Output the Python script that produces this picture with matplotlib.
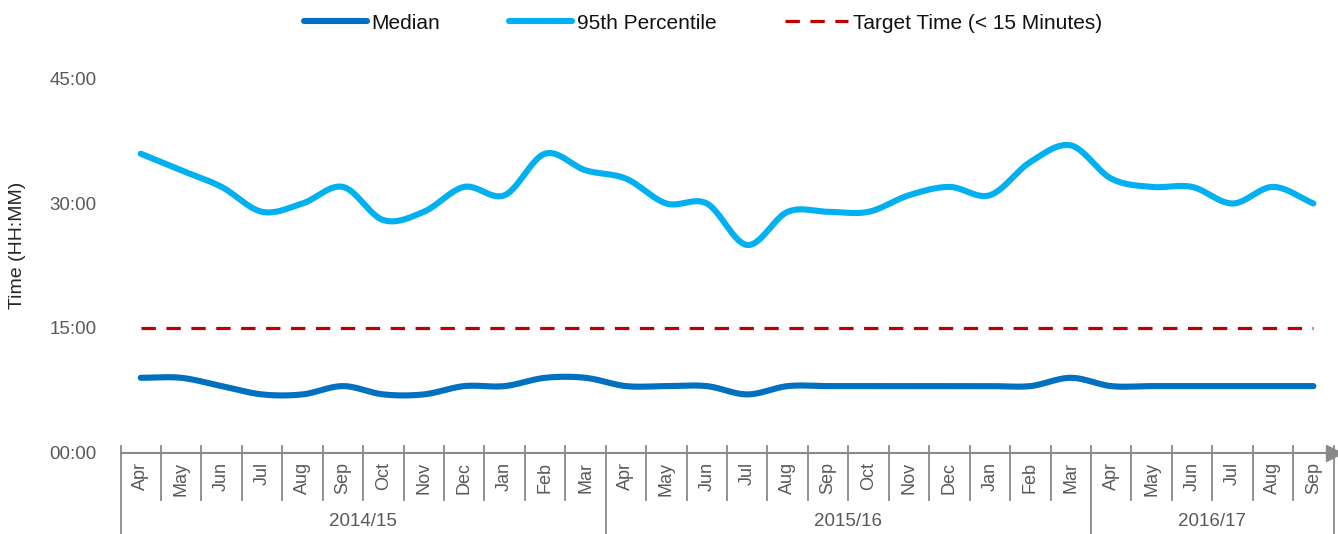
import numpy as np
import matplotlib
matplotlib.use("Agg")
import matplotlib.pyplot as plt
from matplotlib.lines import Line2D
from matplotlib.transforms import blended_transform_factory

plt.rcParams['font.family'] = ['Liberation Sans', 'DejaVu Sans']

# ---------------- data ----------------
months = ["Apr", "May", "Jun", "Jul", "Aug", "Sep", "Oct", "Nov", "Dec", "Jan", "Feb", "Mar",
          "Apr", "May", "Jun", "Jul", "Aug", "Sep", "Oct", "Nov", "Dec", "Jan", "Feb", "Mar",
          "Apr", "May", "Jun", "Jul", "Aug", "Sep"]
years = ["2014/15", "2015/16", "2016/17"]
year_sizes = [12, 12, 6]
# minutes
median = [9, 9, 8, 7, 7, 8, 7, 7, 8, 8, 9, 9,
          8, 8, 8, 7, 8, 8, 8, 8, 8, 8, 8, 9,
          8, 8, 8, 8, 8, 8]
p95 = [36, 34, 32, 29, 30, 32, 28, 29, 32, 31, 36, 34,
       33, 30, 30, 25, 29, 29, 29, 31, 32, 31, 35, 37,
       33, 32, 32, 30, 32, 30]
target = 15
yticks = [0, 15, 30, 45]


def smooth(x, y, n=24):
    """Catmull-Rom spline through the points (rendering only)."""
    x = np.asarray(x, float)
    y = np.asarray(y, float)
    px = np.concatenate([[2 * x[0] - x[1]], x, [2 * x[-1] - x[-2]]])
    py = np.concatenate([[2 * y[0] - y[1]], y, [2 * y[-1] - y[-2]]])
    xs, ys = [], []
    for i in range(1, len(px) - 2):
        t = np.linspace(0, 1, n, endpoint=False)
        for p, out in ((px, xs), (py, ys)):
            p0, p1, p2, p3 = p[i - 1], p[i], p[i + 1], p[i + 2]
            out.append(0.5 * ((2 * p1) + (-p0 + p2) * t +
                              (2 * p0 - 5 * p1 + 4 * p2 - p3) * t ** 2 +
                              (-p0 + 3 * p1 - 3 * p2 + p3) * t ** 3))
    xs.append([x[-1]])
    ys.append([y[-1]])
    return np.concatenate(xs), np.concatenate(ys)


W, H = 1338, 534
fig = plt.figure(figsize=(W / 100, H / 100), dpi=100)
left, right = 120.5, 1333.6
ybot, ytop = 452.5, 79
ax = fig.add_axes([left / W, 1 - ybot / H, (right - left) / W, (ybot - ytop) / H])

n = len(months)
xc = np.arange(n) + 0.5

c_med = "#0070C0"
c_p95 = "#00B0F0"
c_tgt = "#C00000"

sx, sy = smooth(xc, median)
ax.plot(sx, sy, color=c_med, lw=4.4, solid_capstyle='round', label="Median", zorder=3)
sx, sy = smooth(xc, p95)
ax.plot(sx, sy, color=c_p95, lw=4.4, solid_capstyle='round', label="95th Percentile", zorder=3)
ax.plot([xc[0], xc[-1]], [target, target], color=c_tgt, lw=2.3, dashes=(4.5, 3.3),
        dash_capstyle='butt', label="Target Time (< 15 Minutes)", zorder=2)

ax.set_xlim(0, n)
ax.set_ylim(0, 45)
for s in ("left", "right", "top"):
    ax.spines[s].set_visible(False)
gray = "#898989"
ax.spines["bottom"].set_color(gray)
ax.spines["bottom"].set_linewidth(1.5)
ax.set_xticks([])
ax.set_yticks(yticks)
ax.set_yticklabels([f"{v:02d}:00" for v in yticks])
ax.tick_params(axis='y', length=0, pad=17, labelsize=13.5, labelcolor="#595959")

# arrow at the end of x axis
ax.plot([1.0], [0], marker=">", markersize=11, color=gray, transform=ax.transAxes,
        clip_on=False, zorder=4)

# separators and category labels
tr = blended_transform_factory(ax.transData, fig.transFigure)
fy = lambda p: 1 - p / H
year_bounds = np.concatenate([[0], np.cumsum(year_sizes)])
for b in range(n + 1):
    if b in year_bounds:
        y0, y1 = 446, 534
    else:
        y0, y1 = 446, 500
    ax.add_line(Line2D([b, b], [fy(y0), fy(y1)], transform=tr, color=gray, lw=1.3,
                       clip_on=False))
for i, m in enumerate(months):
    ax.text(xc[i], fy(462), m, transform=tr, rotation=90, ha='center', va='top',
            fontsize=13, color="#595959")
for yr, a, b in zip(years, year_bounds[:-1], year_bounds[1:]):
    ax.text((a + b) / 2, fy(522), yr, transform=tr, ha='center', va='center',
            fontsize=13.5, color="#595959")

fig.text(18 / W, 1 - 245 / H, "Time (HH:MM)", rotation=90, ha='center', va='center',
         fontsize=14, color="#262626")

leg = fig.legend(loc='center', bbox_to_anchor=(703 / W, 1 - 23 / H), ncol=3, frameon=False,
                 fontsize=15, handlelength=3.0, handletextpad=0.24, columnspacing=3.3)
for t in leg.get_texts():
    t.set_color("#111111")

fig.savefig("out.png", dpi=100)
